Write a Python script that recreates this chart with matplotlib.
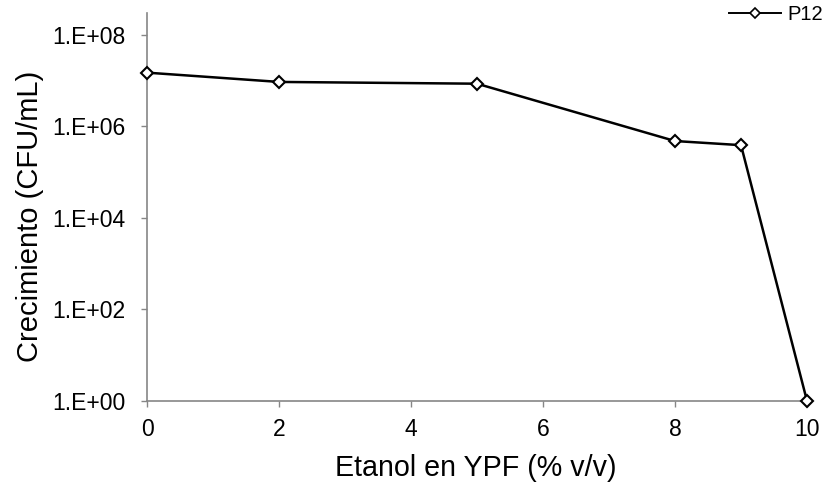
import matplotlib
matplotlib.use("Agg")
import matplotlib.pyplot as plt
from matplotlib.ticker import FixedLocator, FixedFormatter, NullLocator
from matplotlib.lines import Line2D

plt.rcParams['font.family'] = ['Liberation Sans', 'DejaVu Sans']

etanol = [0, 2, 5, 8, 9, 10]
crecimiento = [1.5e7, 9.4e6, 8.6e6, 4.8e5, 3.9e5, 1.0]
series_name = "P12"
y_ticks = [1e0, 1e2, 1e4, 1e6, 1e8]
y_tick_labels = ["1.E+00", "1.E+02", "1.E+04", "1.E+06", "1.E+08"]
x_ticks = [0, 2, 4, 6, 8, 10]

fig = plt.figure(figsize=(8.26, 4.86), dpi=100)
ax = fig.add_axes([0.178, 0.175, 0.799, 0.798])

ax.plot(etanol, crecimiento, color='black', lw=1.8, marker='D', ms=6.5,
        markerfacecolor='white', markeredgecolor='black', markeredgewidth=1.5,
        clip_on=False, zorder=3)

ax.set_yscale('log')
ax.set_ylim(1, 3e8)
ax.set_xlim(0, 10)
ax.yaxis.set_major_locator(FixedLocator(y_ticks))
ax.yaxis.set_major_formatter(FixedFormatter(y_tick_labels))
ax.yaxis.set_minor_locator(NullLocator())
ax.set_xticks(x_ticks)
ax.set_xticklabels([str(v) for v in x_ticks])

for s in ['top', 'right']:
    ax.spines[s].set_visible(False)
for s in ['left', 'bottom']:
    ax.spines[s].set_color('#868686')
    ax.spines[s].set_linewidth(1.2)
ax.tick_params(axis='both', colors='#868686', labelcolor='black', labelsize=16.5,
               length=4.5, width=1.0, direction='out')
ax.tick_params(axis='x', pad=8)
ax.tick_params(axis='y', pad=11)

ax.set_xlabel("Etanol en YPF (% v/v)", fontsize=20.6)
ax.set_ylabel("Crecimiento (CFU/mL)", fontsize=21)
# ylabel: right edge ~ x=42px, centre ~ y=216px
ax.yaxis.set_label_coords((44 - 147) / 660, (401 - 216) / 388)
# xlabel: top ~ y=456px, centre ~ x=476px
ax.xaxis.set_label_coords((476 - 147) / 660, -(454 - 401) / 388)

handle = Line2D([], [], color='black', lw=1.4, marker='D', ms=5,
                markerfacecolor='white', markeredgecolor='black', markeredgewidth=1.2)
fig.legend([handle], [series_name], loc='center left', bbox_to_anchor=(729 / 826, 1 - 15 / 486),
           frameon=False, fontsize=14.5, handlelength=2.6, handletextpad=0.3,
           borderpad=0, borderaxespad=0)

fig.savefig("out.png", dpi=100)
